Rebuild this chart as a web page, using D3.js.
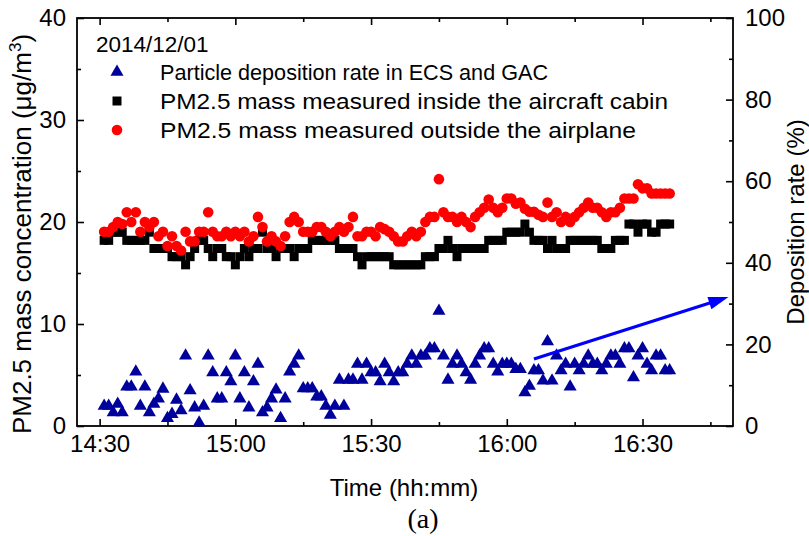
<!DOCTYPE html>
<html><head><meta charset="utf-8">
<script src="https://cdn.jsdelivr.net/npm/d3@7"></script>
<style>body{margin:0;background:#fff}svg{display:block}text{font-family:"Liberation Sans",Arial,sans-serif;fill:#000}</style>
</head><body><svg id="c" width="809" height="536"></svg>
<script>
const times = ["14:31","14:32","14:33","14:34","14:35","14:36","14:37","14:38","14:39","14:40",
"14:41","14:42","14:43","14:44","14:45","14:46","14:47","14:48","14:49","14:50",
"14:51","14:52","14:53","14:54","14:55","14:56","14:57","14:58","14:59","15:00",
"15:01","15:02","15:03","15:04","15:05","15:06","15:07","15:08","15:09","15:10",
"15:11","15:12","15:13","15:14","15:15","15:16","15:17","15:18","15:19","15:20",
"15:21","15:22","15:23","15:24","15:25","15:26","15:27","15:28","15:29","15:30",
"15:31","15:32","15:33","15:34","15:35","15:36","15:37","15:38","15:39","15:40",
"15:41","15:42","15:43","15:44","15:45","15:46","15:47","15:48","15:49","15:50",
"15:51","15:52","15:53","15:54","15:55","15:56","15:57","15:58","15:59","16:00",
"16:01","16:02","16:03","16:04","16:05","16:06","16:07","16:08","16:09","16:10",
"16:11","16:12","16:13","16:14","16:15","16:16","16:17","16:18","16:19","16:20",
"16:21","16:22","16:23","16:24","16:25","16:26","16:27","16:28","16:29","16:30",
"16:31","16:32","16:33","16:34","16:35","16:36"];

// Particle deposition rate in ECS and GAC (%), right axis
const depositionRate = [4.9,4.9,3.3,5.4,3.3,9.6,9.6,13.3,4.9,9.6,
3.3,5.4,6.7,9.1,1.9,2.9,6.4,3.8,17.2,8.7,
4.5,0.8,4.9,17.2,13.1,6.7,6.7,13.1,10.9,17.2,
6.7,13.1,4.5,10.9,15.2,3.3,4.5,6.7,8.9,1.9,
6.7,13.3,15.2,17.2,9.2,9.2,9.2,7.2,7.2,4.9,
2.7,4.9,11.3,4.9,11.3,11.3,15.2,11.3,15.2,13.1,
13.1,10.9,15.2,13.1,10.9,13.1,13.1,15.2,17.2,15.2,
17.2,17.2,19.0,19.0,28.2,17.2,11.3,15.2,17.2,15.2,
13.1,11.3,15.2,17.2,19.0,19.0,15.2,13.3,15.2,15.2,
15.2,13.9,13.9,8.2,9.8,13.6,13.6,11.1,20.7,11.1,
17.2,13.6,15.2,9.6,15.2,13.6,15.2,17.2,15.2,15.2,
13.6,15.2,17.2,17.2,15.2,19.0,19.0,11.9,17.2,19.0,
15.2,13.6,17.2,17.2,13.6,13.6];

// PM2.5 mass measured inside the aircraft cabin (ug/m3)
const insideCabin = [18.2,18.2,19.0,19.0,19.0,18.2,18.2,18.2,18.2,18.2,
19.0,17.4,17.4,17.4,17.4,16.6,16.6,16.6,15.8,16.6,
17.4,18.2,18.2,17.4,16.6,17.4,17.4,16.6,16.6,15.8,
16.6,17.4,16.6,17.4,17.4,19.0,17.4,17.4,16.6,17.4,
17.4,17.4,16.6,17.4,17.4,17.4,18.2,18.2,18.2,18.2,
18.2,18.2,17.4,17.4,17.4,17.4,16.6,15.8,16.6,16.6,
16.6,16.6,16.6,16.6,15.8,15.8,15.8,15.8,15.8,15.8,
15.8,16.6,16.6,16.6,17.4,17.4,18.2,17.4,16.6,17.4,
17.4,17.4,17.4,17.4,17.4,18.2,18.2,18.2,18.2,19.0,
19.0,19.0,19.0,19.8,19.0,18.2,18.2,18.2,17.4,18.2,
17.4,17.4,17.4,18.2,18.2,18.2,18.2,18.2,18.2,18.2,
17.4,17.4,17.4,18.2,18.2,18.2,19.8,19.8,19.0,19.8,
19.8,19.0,19.0,19.8,19.8,19.8];

// PM2.5 mass measured outside the airplane (ug/m3)
const outsideAirplane = [19.05,19.05,19.5,20.0,19.8,20.95,20.0,20.95,19.05,20.0,
19.5,20.0,18.6,19.05,17.65,18.6,17.65,17.2,19.05,18.1,
18.1,19.05,19.05,20.95,19.05,18.6,18.6,19.05,18.6,19.05,
18.6,19.05,18.1,18.6,20.5,19.5,18.1,18.6,18.1,17.65,
18.6,20.0,20.5,20.0,19.05,19.05,19.05,19.5,19.5,19.05,
18.6,19.05,19.5,19.05,19.5,20.5,18.6,18.6,19.05,19.05,
18.6,19.5,19.3,19.05,18.6,18.1,18.1,18.6,19.05,18.6,
19.05,20.0,20.5,20.5,24.2,20.95,20.5,20.5,20.0,20.5,
20.0,19.5,20.5,20.95,21.4,22.2,21.4,20.95,21.4,22.3,
22.3,21.8,21.9,21.3,21.0,21.0,20.7,20.5,21.9,20.5,
20.95,20.0,20.5,20.0,20.5,20.95,21.4,21.9,21.4,21.4,
20.95,20.5,20.95,20.95,21.4,22.3,22.3,22.3,23.7,23.3,
23.3,22.8,22.8,22.8,22.8,22.8];

const timeDomain = ["14:25","16:50"];
const xMajorTicks = ["14:30","15:00","15:30","16:00","16:30"];
const xMinorTicks = ["14:45","15:15","15:45","16:15","16:45"];
const leftMajorTicks = [0,10,20,30,40];
const leftMinorTicks = [5,15,25,35];
const rightMajorTicks = [0,20,40,60,80,100];
const rightMinorTicks = [10,30,50,70,90];
const arrowStart = {time:"16:06", rate:16.4};
const arrowEnd = {time:"16:49", rate:31.6};
const legendTitle = "2014/12/01";
const legendLabels = ["Particle deposition rate in ECS and GAC",
  "PM2.5 mass measured inside the aircraft cabin",
  "PM2.5 mass measured outside the airplane"];

const parse = d3.timeParse("%H:%M");
const L = 77, R = 733, T = 18, B = 426;
const svg = d3.select("#c");
const x = d3.scaleTime().domain(timeDomain.map(parse)).range([L, R]);
const yL = d3.scaleLinear().domain([0,40]).range([B, T]);
const yR = d3.scaleLinear().domain([0,100]).range([B, T]);

const fs = 24;
svg.append("g").attr("transform",`translate(0,${B})`)
  .call(d3.axisBottom(x).tickValues(xMajorTicks.map(parse)).tickFormat(d3.timeFormat("%H:%M")).tickSizeInner(-7).tickSizeOuter(0).tickPadding(9));
svg.append("g").attr("transform",`translate(0,${B})`)
  .call(d3.axisBottom(x).tickValues(xMinorTicks.map(parse)).tickFormat("").tickSizeInner(-4).tickSizeOuter(0));
svg.append("g").attr("transform",`translate(0,${T})`)
  .call(d3.axisTop(x).tickValues(xMajorTicks.map(parse)).tickFormat("").tickSizeInner(-7).tickSizeOuter(0));
svg.append("g").attr("transform",`translate(0,${T})`)
  .call(d3.axisTop(x).tickValues(xMinorTicks.map(parse)).tickFormat("").tickSizeInner(-4).tickSizeOuter(0));
svg.append("g").attr("transform",`translate(${L},0)`)
  .call(d3.axisLeft(yL).tickValues(leftMajorTicks).tickSizeInner(-7).tickSizeOuter(0).tickPadding(11));
svg.append("g").attr("transform",`translate(${L},0)`)
  .call(d3.axisLeft(yL).tickValues(leftMinorTicks).tickFormat("").tickSizeInner(-4).tickSizeOuter(0));
svg.append("g").attr("transform",`translate(${R},0)`)
  .call(d3.axisRight(yR).tickValues(rightMajorTicks).tickSizeInner(-7).tickSizeOuter(0).tickPadding(12));
svg.append("g").attr("transform",`translate(${R},0)`)
  .call(d3.axisRight(yR).tickValues(rightMinorTicks).tickFormat("").tickSizeInner(-4).tickSizeOuter(0));
svg.selectAll(".domain").remove();
svg.selectAll(".tick line").attr("stroke","#000").attr("stroke-width",1.6);
svg.selectAll(".tick text").style("font-size",fs+"px").style("font-family","Liberation Sans, Arial, sans-serif").attr("fill","#000");
svg.append("rect").attr("x",L).attr("y",T).attr("width",R-L).attr("height",B-T)
  .attr("fill","none").attr("stroke","#000").attr("stroke-width",1.8);

// data
const triColor = "#00009c";
const tri = d3.symbol().type(d3.symbolTriangle).size(74);
const sq = d3.symbol().type(d3.symbolSquare).size(81);
const g = svg.append("g");
g.selectAll("path.dep").data(times).join("path").attr("class","dep")
  .attr("d",tri).attr("fill",triColor)
  .attr("transform",(t,i)=>`translate(${x(parse(t))},${yR(depositionRate[i])})`);
g.selectAll("path.ins").data(times).join("path").attr("class","ins")
  .attr("d",sq).attr("fill","#000")
  .attr("transform",(t,i)=>`translate(${x(parse(t))},${yL(insideCabin[i])})`);
g.selectAll("circle.out").data(times).join("circle").attr("class","out")
  .attr("cx",t=>x(parse(t))).attr("cy",(t,i)=>yL(outsideAirplane[i])).attr("r",5.3).attr("fill","#ff0000");

// arrow
const x0 = x(parse(arrowStart.time)), y0 = yR(arrowStart.rate);
const x1 = x(parse(arrowEnd.time)), y1 = yR(arrowEnd.rate);
const ang = Math.atan2(y1-y0, x1-x0), hl = 20, hw = 6.5;
const bx = x1 - hl*Math.cos(ang), by = y1 - hl*Math.sin(ang);
svg.append("line").attr("x1",x0).attr("y1",y0).attr("x2",bx+2*Math.cos(ang)).attr("y2",by+2*Math.sin(ang))
  .attr("stroke","#0000ff").attr("stroke-width",3.2);
svg.append("path").attr("fill","#0000ff").attr("d",
  `M${x1},${y1}L${bx - hw*Math.sin(ang)},${by + hw*Math.cos(ang)}L${bx + hw*Math.sin(ang)},${by - hw*Math.cos(ang)}Z`);

// legend
svg.append("text").attr("x",96).attr("y",52).style("font-size","22.5px").text(legendTitle);
const rows = [72,101,130];
const legendWidths = [388,508,476];
svg.append("path").attr("d",tri).attr("fill",triColor).attr("transform",`translate(117,${rows[0]})`);
svg.append("path").attr("d",sq).attr("fill","#000").attr("transform",`translate(117,${rows[1]})`);
svg.append("circle").attr("cx",117).attr("cy",rows[2]).attr("r",5.3).attr("fill","#ff0000");
legendLabels.forEach((s,i)=>svg.append("text").attr("x",160).attr("y",rows[i]+8)
  .attr("textLength",legendWidths[i]).attr("lengthAdjust","spacingAndGlyphs")
  .style("font-size","21.7px").text(s));

// axis titles
svg.append("text").attr("x",404).attr("y",496).attr("text-anchor","middle").style("font-size",fs+"px").text("Time (hh:mm)");
const lt = svg.append("text").attr("transform","translate(31,234) rotate(-90)").attr("text-anchor","middle").style("font-size","26px");
lt.append("tspan").text("PM2.5 mass concentration (\u03bcg/m");
lt.append("tspan").attr("dy",-10).style("font-size","17px").text("3");
lt.append("tspan").attr("dy",10).text(")");
svg.append("text").attr("transform","translate(804,222) rotate(-90)").attr("text-anchor","middle").style("font-size","24px").text("Deposition rate (%)");
svg.append("text").attr("x",423).attr("y",528).attr("text-anchor","middle")
  .style("font-family","Liberation Serif, Times New Roman, serif").style("font-size","28px").text("(a)");
</script></body></html>
